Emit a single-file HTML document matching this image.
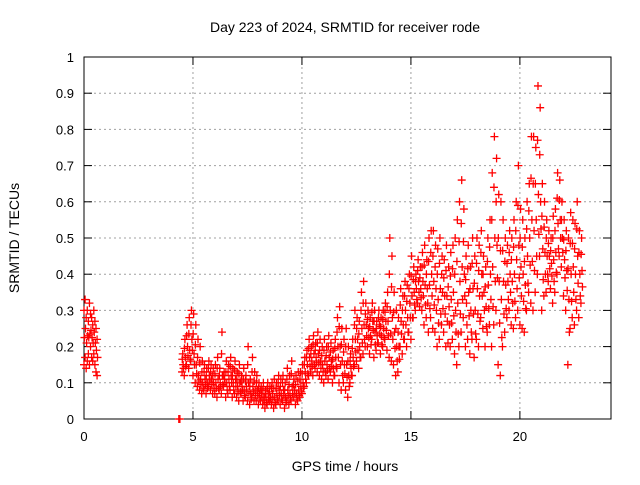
<!DOCTYPE html>
<html><head><meta charset="utf-8">
<style>
body{margin:0;background:#fff;}
svg{font-family:"Liberation Sans",sans-serif;}
</style></head>
<body>
<svg id="chart" width="640" height="480" xmlns="http://www.w3.org/2000/svg">
<rect width="640" height="480" fill="#fff"/>
<g id="grid"></g>
<g id="axes"></g>
<g id="marks"></g>
<text x="345" y="32" font-size="14" text-anchor="middle">Day 223 of 2024, SRMTID for receiver rode</text>
<text x="345" y="471" font-size="14" text-anchor="middle">GPS time / hours</text>
<text transform="translate(19,238) rotate(-90)" font-size="14" text-anchor="middle">SRMTID / TECUs</text>
</svg>
<script>
const xTicks=[0,5,10,15,20];
const yTicks=[0,0.1,0.2,0.3,0.4,0.5,0.6,0.7,0.8,0.9,1];
const yTickLabels=["0","0.1","0.2","0.3","0.4","0.5","0.6","0.7","0.8","0.9","1"];
const earlyTimes=[0,0.05,0.1,0.15,0.2,0.25,0.3,0.35,0.4,0.45,0.5,0.55,0.6];
const earlyLo=[.15,.17,.14,.16,.18,.15,.2,.17,.16,.18,.15,.13,.12];
const earlyHi=[.3,.33,.28,.3,.27,.32,.29,.28,.26,.3,.27,.25,.22];
const zeroTimes=[4.35,4.4];
const mainStart=4.5;
const mainLo=[.13,.12,.15,.14,.16,
.12,.1,.09,.08,.07,.08,.07,.09,.08,.07,
.07,.06,.08,.07,.09,.06,.07,.08,.06,.07,
.06,.05,.07,.05,.06,.05,.04,.06,.05,.05,
.04,.05,.04,.03,.04,.05,.04,.03,.04,.05,
.04,.05,.03,.05,.04,.05,.06,.04,.05,.06,
.07,.09,.1,.12,.13,.12,.14,.13,.12,.11,
.1,.12,.11,.13,.1,.12,.14,.1,.08,.1,
.08,.06,.1,.12,.15,.16,.14,.17,.18,.2,
.2,.18,.22,.17,.19,.21,.18,.2,.22,.19,
.17,.16,.15,.12,.13,.2,.18,.22,.2,.24,
.22,.28,.3,.32,.31,.3,.26,.28,.24,.28,
.25,.24,.2,.22,.26,.24,.2,.21,.2,.22,
.18,.15,.2,.24,.28,.2,.22,.18,.22,.17,
.22,.2,.28,.25,.2,.24,.26,.2,.26,.3,
.15,.12,.2,.24,.28,.3,.26,.25,.28,.3,
.26,.25,.24,.3,.35,.32,.3,.35,.4,.45,
.3,.34,.35,.38,.36,.32,.35,.4,.45,.42,
.34,.3,.15,.25,.28,.26,.3,.28,.32];
const mainMid=[.15,.17,.2,.19,.22,
.18,.15,.12,.11,.1,.11,.1,.12,.11,.1,
.1,.11,.1,.12,.11,.1,.11,.12,.1,.11,
.09,.1,.09,.08,.09,.1,.07,.09,.08,.08,
.07,.07,.06,.06,.07,.06,.07,.06,.07,.08,
.07,.08,.06,.08,.07,.09,.08,.07,.08,.09,
.1,.13,.15,.17,.16,.18,.17,.18,.16,.15,
.16,.15,.17,.16,.14,.17,.2,.2,.16,.15,
.15,.12,.14,.17,.22,.22,.2,.25,.26,.26,
.25,.23,.27,.24,.23,.26,.23,.25,.27,.27,
.3,.28,.24,.2,.2,.27,.26,.3,.28,.32,
.34,.35,.36,.38,.36,.38,.37,.36,.37,.4,
.38,.36,.33,.36,.35,.34,.34,.31,.33,.35,
.3,.32,.38,.42,.4,.32,.35,.3,.36,.3,
.36,.34,.4,.35,.31,.37,.4,.42,.5,.48,
.38,.33,.38,.37,.38,.4,.38,.4,.44,.48,
.42,.4,.37,.45,.5,.55,.52,.55,.62,.6,
.47,.46,.45,.45,.43,.44,.46,.54,.55,.5,
.44,.41,.33,.4,.42,.4,.45,.4,.41];
const mainHi=[.18,.22,.26,.28,.3,
.29,.26,.22,.2,.16,.15,.14,.16,.15,.14,
.15,.17,.14,.24,.13,.16,.15,.17,.14,.16,
.13,.15,.12,.14,.12,.2,.11,.17,.13,.12,
.1,.09,.1,.08,.1,.09,.1,.11,.1,.12,
.11,.12,.1,.14,.12,.16,.11,.12,.13,.13,
.15,.17,.19,.22,.2,.23,.21,.24,.22,.2,
.22,.2,.23,.21,.19,.22,.28,.31,.25,.22,
.25,.2,.18,.22,.3,.28,.27,.35,.38,.32,
.3,.28,.32,.3,.27,.3,.28,.3,.32,.35,
.5,.45,.35,.3,.28,.36,.34,.38,.37,.4,
.45,.42,.4,.44,.42,.46,.48,.44,.5,.52,
.52,.48,.47,.5,.45,.44,.48,.42,.46,.48,
.5,.55,.6,.66,.58,.45,.48,.42,.5,.45,
.5,.48,.52,.45,.42,.5,.55,.68,.78,.72,
.62,.6,.55,.5,.48,.52,.5,.55,.6,.7,
.58,.55,.5,.6,.65,.78,.78,.75,.92,.86,
.65,.6,.55,.52,.5,.56,.58,.68,.66,.6,
.55,.52,.5,.57,.55,.54,.6,.52,.5];

const L=84,R=611,T=57,B=419,XMAX=24.18;
const xs=v=>L+v/XMAX*(R-L);
const ys=v=>B-v*(B-T);
const NS="http://www.w3.org/2000/svg";
function mk(tag,attrs,parent){const e=document.createElementNS(NS,tag);for(const k in attrs)e.setAttribute(k,attrs[k]);parent.appendChild(e);return e;}
const grid=document.getElementById('grid'),axes=document.getElementById('axes'),marks=document.getElementById('marks');
yTicks.forEach((v,i)=>{
  const y=ys(v);
  if(i>0&&i<yTicks.length-1){const g=mk('line',{x1:L,x2:R,y1:y,y2:y,stroke:'#a0a0a0','stroke-dasharray':'2,3','stroke-width':1},grid);
  
  }
  mk('line',{x1:L,x2:L+8,y1:y,y2:y,stroke:'#000'},axes);
  mk('line',{x1:R,x2:R-8,y1:y,y2:y,stroke:'#000'},axes);
  const t=mk('text',{x:L-10,y:y+5,'font-size':13,'text-anchor':'end'},axes);
  
  
  t.textContent=yTickLabels[i];
});
xTicks.forEach(v=>{
  const x=xs(v);
  if(v>0){const g=mk('line',{x1:x,x2:x,y1:T,y2:B,stroke:'#a0a0a0','stroke-dasharray':'2,3','stroke-width':1},grid);
  
  }
  mk('line',{x1:x,x2:x,y1:B,y2:B-8,stroke:'#000'},axes);
  mk('line',{x1:x,x2:x,y1:T,y2:T+8,stroke:'#000'},axes);
  const t=mk('text',{x:x,y:B+22,'font-size':13,'text-anchor':'middle'},axes);
  
  
  t.textContent=String(v);
});
const border=mk('rect',{x:L,y:T,width:R-L,height:B-T,fill:'none',stroke:'#000'},axes);


function plus(t,v,col){
  const x=xs(t),y=ys(v);
  const p=mk('path',{d:`M${x-4},${y}h8M${x},${y-4}v8`,stroke:col||'#f00','stroke-width':1.3,fill:'none'},marks);
  
  
}
earlyTimes.forEach((t,i)=>{plus(t,earlyLo[i]);plus(t,earlyHi[i]);plus(t+0.02,(earlyLo[i]+earlyHi[i])/2);});
zeroTimes.forEach(t=>{plus(t,0);});
mainLo.forEach((v,i)=>{
  const t=mainStart+i*0.1;
  plus(t,v);plus(t+0.05,mainMid[i]);plus(t+0.03,mainHi[i]);
  plus(t+0.07,(v+mainMid[i])/2);plus(t+0.01,(mainHi[i]+mainMid[i])/2);
});
</script>
</body></html>
